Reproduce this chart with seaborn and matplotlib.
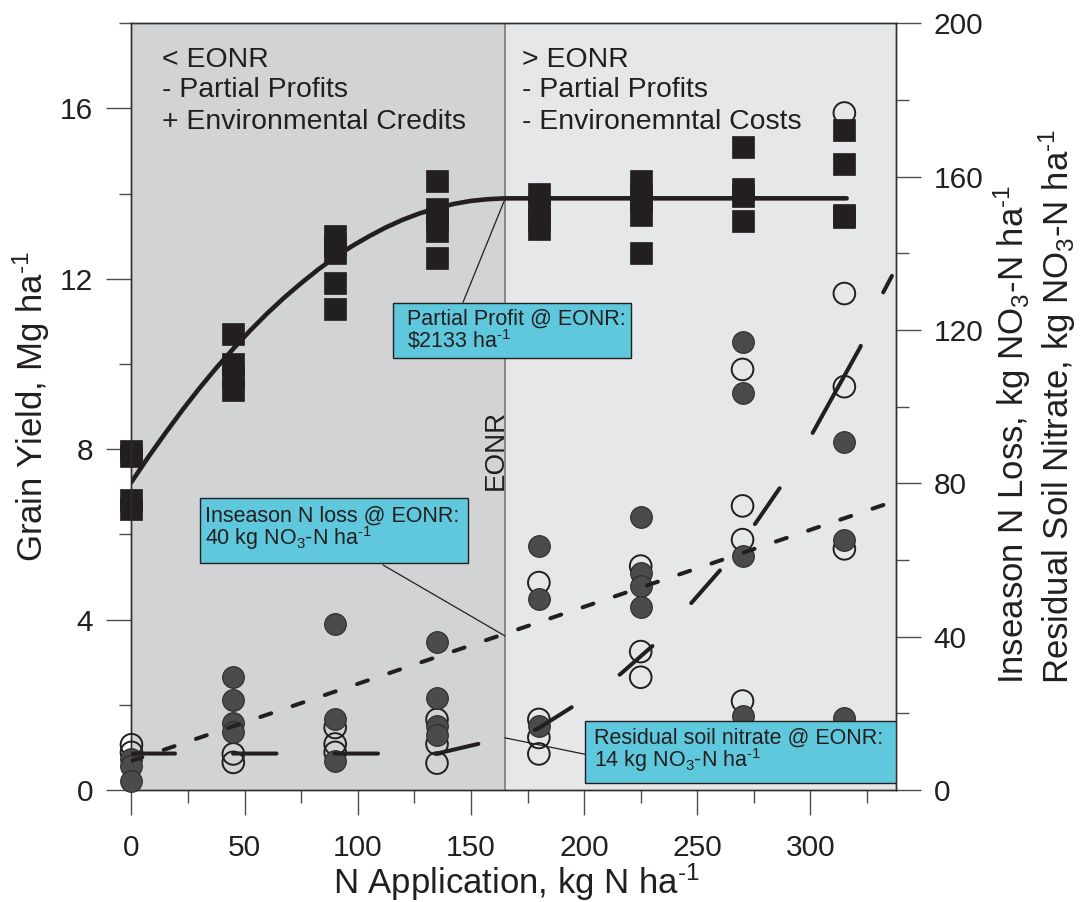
import numpy as np
import pandas as pd
import matplotlib
matplotlib.use("Agg")
import matplotlib.pyplot as plt
from matplotlib.patches import Rectangle
from matplotlib.ticker import MultipleLocator
import seaborn as sns

# ---- data --------------------------------------------------------------
# grain yield (squares), Mg/ha, left axis
yield_n = [0, 0, 0, 0, 45, 45, 45, 45, 90, 90, 90, 90, 90,
           135, 135, 135, 135, 135, 180, 180, 180, 180,
           225, 225, 225, 225, 225, 270, 270, 270, 270, 315, 315, 315, 315]
yield_mg = [7.95, 7.83, 6.8, 6.6, 10.7, 10.0, 9.7, 9.4, 13.0, 12.8, 12.6, 11.9, 11.3,
            14.3, 13.65, 13.4, 13.12, 12.5, 14.0, 13.7, 13.4, 13.17,
            14.3, 14.0, 13.8, 13.5, 12.6, 15.1, 14.1, 13.95, 13.36, 15.5, 14.7, 13.5, 13.45]

# yield response curve (quadratic plateau)
curve_n = [0, 7.5, 15, 22.5, 30, 37.5, 45, 52.5, 60, 67.5, 75, 82.5, 90, 97.5,
           105, 112.5, 120, 127.5, 135, 142.5, 150, 157.5, 165, 316]
curve_mg = [7.23, 7.82, 8.38, 8.92, 9.43, 9.91, 10.36, 10.79, 11.19, 11.56, 11.90, 12.22,
            12.51, 12.77, 13.00, 13.21, 13.39, 13.54, 13.66, 13.76, 13.83, 13.87, 13.89, 13.89]

# inseason N loss (filled circles), kg NO3-N/ha, right axis
loss_n = [0, 0, 0, 45, 45, 45, 45, 90, 90, 90, 135, 135, 135, 135,
          180, 180, 180, 225, 225, 225, 225, 270, 270, 270, 270, 315, 315, 315]
loss_kg = [8.1, 6.3, 2.3, 29.5, 23.6, 17.6, 15.0, 43.3, 18.6, 7.6, 38.5, 24.0, 16.7, 14.3,
           63.7, 49.9, 16.7, 71.3, 56.7, 53.2, 47.8, 116.8, 103.6, 61.0, 19.3, 90.9, 65.3, 18.9]

# residual soil nitrate (open circles), kg NO3-N/ha, right axis
nitrate_n = [0, 0, 45, 45, 90, 90, 90, 135, 135, 135, 180, 180, 180, 180,
             225, 225, 225, 270, 270, 270, 270, 315, 315, 315, 315]
nitrate_kg = [11.8, 9.8, 9.4, 7.2, 16.3, 12.0, 9.8, 18.4, 12.0, 7.0, 54.1, 18.4, 13.7, 9.4,
              58.4, 36.1, 29.4, 109.7, 74.1, 65.3, 23.2, 176.6, 129.5, 105.2, 62.9]

# fitted trends
inseason_n = [0, 337.5]
inseason_kg = [7.6, 75.4]
resid_n = [0, 135, 156, 179, 197, 216, 232, 248, 262, 276, 288, 300, 322, 331, 336]
resid_kg = [9.5, 9.5, 12.4, 15.8, 22.5, 30.2, 38.5, 49.2, 58.6, 69.8, 80.1, 92.1, 115.5, 128.5, 134.1]

EONR = 165
XMAX = 337.6

# ---- style ---------------------------------------------------------------
INK = "#231f20"
TICK = "#4d4d4d"
LEFT_BG = "#d1d3d4"
RIGHT_BG = "#e6e7e8"
BOX = "#60c8dc"
DOT = "#4b4b4d"

sns.set_style("ticks")
plt.rcParams["font.family"] = ["Liberation Sans", "DejaVu Sans"]
plt.rcParams["mathtext.fontset"] = "custom"
plt.rcParams["mathtext.rm"] = "Liberation Sans"
plt.rcParams["mathtext.it"] = "Liberation Sans:italic"
plt.rcParams["mathtext.bf"] = "Liberation Sans:bold"
plt.rcParams["mathtext.sf"] = "Liberation Sans"

fig = plt.figure(figsize=(10.83, 9.02), dpi=100)
ax = fig.add_axes([0.1214, 0.1242, 0.7055, 0.8500])
ax2 = ax.twinx()

# shaded regions + EONR line
ax.axvspan(0, EONR, color=LEFT_BG, lw=0, zorder=0)
ax.axvspan(EONR, XMAX, color=RIGHT_BG, lw=0, zorder=0)
ax.axvline(EONR, color="#7a7a7a", lw=1.2, zorder=1)

# grain yield
sns.scatterplot(x=yield_n, y=yield_mg, marker="s", s=266, color=INK, edgecolor=INK,
                linewidth=0.5, ax=ax, zorder=3, clip_on=False)
sns.lineplot(x=curve_n, y=curve_mg, color=INK, lw=3.3, ax=ax, zorder=4, errorbar=None,
             solid_capstyle="round", solid_joinstyle="round")

# nitrate circles (right axis)
sns.scatterplot(x=nitrate_n, y=nitrate_kg, marker="o", s=243, color=INK, facecolor="none",
                edgecolor=INK, linewidth=1.4, ax=ax2, zorder=3, clip_on=False)
sns.scatterplot(x=loss_n, y=loss_kg, marker="o", s=243, color=DOT, edgecolor="#2b2b2b",
                linewidth=0.8, ax=ax2, zorder=4, clip_on=False)

sns.lineplot(x=inseason_n, y=inseason_kg, color=INK, lw=2.9, linestyle=(0, (2.85, 5.6)),
             dash_capstyle="round", ax=ax2, zorder=5, errorbar=None)
# residual nitrate trend: dash pattern restarts near the top end, as in the original
sns.lineplot(x=resid_n[:11], y=resid_kg[:11], color=INK, lw=2.9, linestyle=(0, (10.8, 14.4)),
             dash_capstyle="round", ax=ax2, zorder=5, errorbar=None)
sns.lineplot(x=resid_n[10:], y=resid_kg[10:], color=INK, lw=2.9,
             linestyle=(24.7, (24.7, 14.4)),
             dash_capstyle="round", ax=ax2, zorder=5, errorbar=None)

# region notes
for y, s in [(16.98, "< EONR"), (16.26, "- Partial Profits"), (15.52, "+ Environmental Credits")]:
    ax.text(13.5, y, s, fontsize=20.4, color=INK, va="baseline", zorder=6)
for y, s in [(16.98, "> EONR"), (16.26, "- Partial Profits"), (15.52, "- Environemntal Costs")]:
    ax.text(172.4, y, s, fontsize=20.4, color=INK, va="baseline", zorder=6)
ax.text(164.0, 7.04, "EONR", fontsize=20, color=INK, rotation=90,
        rotation_mode="anchor", ha="left", va="baseline", zorder=6)

# callout boxes
box_kw = dict(facecolor=BOX, edgecolor=INK, lw=1.0, zorder=6)
ax2.add_patch(Rectangle((115.5, 10.13), 105.4, 1.31, transform=ax.transData, **box_kw))
ax2.add_patch(Rectangle((30.4, 5.34), 118.4, 1.52, transform=ax.transData, **box_kw))
ax2.add_patch(Rectangle((200.5, 1.7), 137.1, 16.2, **box_kw))

ax2.plot([146.5, EONR], [11.45, 13.87], transform=ax.transData, color=INK, lw=0.9, zorder=5.5)
ax2.plot([111.1, EONR], [58.7, 40.2], color=INK, lw=0.9, zorder=5.5)
ax2.plot([200.5, EONR], [9.3, 13.6], color=INK, lw=0.9, zorder=5.5)

txt_kw = dict(fontsize=15.5, color=INK, va="baseline", zorder=7)
ax2.text(121.9, 10.92, "Partial Profit @ EONR:", transform=ax.transData, **txt_kw)
ax2.text(121.9, 10.37, r"\$2133 ha$^{\text{-1}}$", transform=ax.transData, **txt_kw)
ax2.text(32.7, 6.29, "Inseason N loss @ EONR:", transform=ax.transData, **txt_kw)
ax2.text(32.7, 5.74, r"40 kg NO$_{3}$-N ha$^{\text{-1}}$", transform=ax.transData, **txt_kw)
ax2.text(204.2, 12.0, "Residual soil nitrate @ EONR:", **txt_kw)
ax2.text(204.2, 6.1, r"14 kg NO$_{3}$-N ha$^{\text{-1}}$", **txt_kw)

# axes, ticks
ax.set_xlim(0, XMAX)
ax.set_ylim(0, 18)
ax2.set_ylim(0, 200)
ax.set_xticks(range(0, 301, 50))
ax.xaxis.set_minor_locator(MultipleLocator(25))
ax.set_yticks([0, 4, 8, 12, 16])
ax.yaxis.set_minor_locator(MultipleLocator(2))
ax2.set_yticks(range(0, 201, 40))
ax2.yaxis.set_minor_locator(MultipleLocator(20))

for a in (ax, ax2):
    a.tick_params(which="major", length=18, width=1.0, color=TICK, labelsize=21.5,
                  labelcolor=INK, direction="out")
    a.tick_params(which="minor", length=9, width=1.0, color=TICK, direction="out")
    for sp in a.spines.values():
        sp.set_color("#2e2e2e")
        sp.set_linewidth(1.0)
ax.tick_params(axis="x", which="major", pad=14)
ax.tick_params(axis="y", which="major", pad=9.6)
ax2.tick_params(axis="y", which="major", pad=9.6)

ax.set_xlabel(r"N Application, kg N ha$^{\text{-1}}$", fontsize=25, color=INK)
ax.xaxis.set_label_coords(0.504, -0.093)
ax.set_ylabel(r"Grain Yield, Mg ha$^{\text{-1}}$", fontsize=25, color=INK)
ax.yaxis.set_label_coords(-0.1046, 0.5)
ax2.set_ylabel("Inseason N Loss, kg NO$_{3}$-N ha$^{\\text{-1}}$\n"
               "Residual Soil Nitrate, kg NO$_{3}$-N ha$^{\\text{-1}}$",
               fontsize=25, color=INK, multialignment="left", linespacing=1.1)
ax2.yaxis.set_label_coords(1.126, 0.5)

fig.savefig("out.png", dpi=100)
